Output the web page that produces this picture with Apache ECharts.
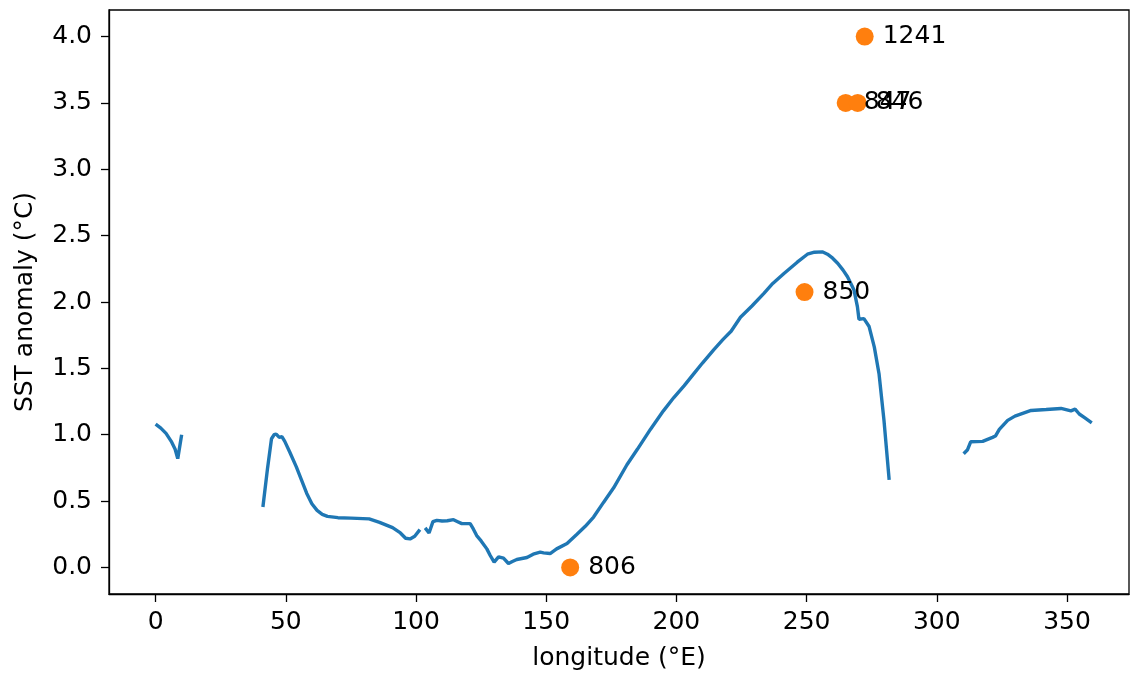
<!DOCTYPE html>
<html>
<head>
<meta charset="utf-8">
<script src="https://cdn.jsdelivr.net/npm/echarts@6/dist/echarts.min.js"></script>
<style>
html,body{margin:0;padding:0;background:#fff;}
#chart{width:1130px;height:676px;}
</style>
</head>
<body>
<div id="chart"></div>
<script>
// SST anomaly line (null = gap)
const lonValues = [
  0, 2, 4, 6, 7.5, 8.5, 10, null,
  41.2, 43, 44.5, 45.5, 46.3, 47.5, 48.5, 49.6, 51.5, 54, 56, 58, 60, 62, 64, 66, 70, 75, 82, 86, 91, 94, 96, 97.7, 99.5, 101.5, null,
  103.5, 105, 106.5, 108, 110, 112, 114.4, 116, 117.6, 120.8, 122, 123.3, 125, 127.2, 128.5, 130, 131.7, 133.6, 135.5, 137, 138.7, 142.6, 145, 147.7, 149, 151.5, 154, 158, 161.8, 165, 168.2, 172, 175.9, 181, 185, 190, 195, 199, 203, 206.7, 210, 214.3, 218, 221, 224.6, 229, 233.6, 237, 241.3, 246.4, 250.3, 253, 256, 258, 260, 262, 264, 265.7, 268.2, 269.5, 270.1, 272, 274, 276, 277.8, 279.7, 281.7, null,
  310.3, 311.8, 313, 317.6, 321.4, 322.5, 324, 327.2, 330, 336.2, 342, 347.7, 351.5, 353.1, 354.7, 357, 359.5
];
const sstValues = [
  1.08, 1.05, 1.01, 0.95, 0.89, 0.82, 1.0, null,
  0.456, 0.75, 0.97, 1.0, 1.005, 0.98, 0.985, 0.95, 0.87, 0.76, 0.66, 0.56, 0.48, 0.43, 0.40, 0.385, 0.375, 0.372, 0.366, 0.34, 0.30, 0.26, 0.22, 0.215, 0.235, 0.285, null,
  0.298, 0.26, 0.345, 0.355, 0.35, 0.352, 0.36, 0.345, 0.33, 0.33, 0.29, 0.24, 0.20, 0.14, 0.09, 0.04, 0.08, 0.07, 0.03, 0.045, 0.06, 0.075, 0.10, 0.115, 0.11, 0.105, 0.14, 0.18, 0.25, 0.31, 0.38, 0.49, 0.60, 0.774, 0.89, 1.04, 1.18, 1.28, 1.37, 1.46, 1.54, 1.64, 1.72, 1.78, 1.885, 1.97, 2.065, 2.14, 2.215, 2.30, 2.36, 2.375, 2.378, 2.36, 2.33, 2.29, 2.24, 2.19, 2.09, 1.965, 1.87, 1.875, 1.815, 1.66, 1.46, 1.11, 0.66, null,
  0.857, 0.887, 0.947, 0.95, 0.98, 0.99, 1.04, 1.108, 1.14, 1.183, 1.19, 1.198, 1.18, 1.193, 1.156, 1.125, 1.09
];

// Site points
const siteLon = [159.2, 249.2, 265, 269.6, 272.3];
const siteSst = [0.0, 2.075, 3.5, 3.5, 4.0];
const siteLabels = ['806', '850', '847', '846', '1241'];

// Tick labels
const xTicks = [0, 50, 100, 150, 200, 250, 300, 350];
const yTicks = [0, 0.5, 1, 1.5, 2, 2.5, 3, 3.5, 4];

const lineData = lonValues.map((x, i) => (x === null ? [null, null] : [x, sstValues[i]]));
const siteData = siteLon.map((x, i) => ({ value: [x, siteSst[i]], label: { formatter: siteLabels[i] } }));

const FONT = 'DejaVu Sans';
const chart = echarts.init(document.getElementById('chart'), null, { renderer: 'canvas' });
chart.setOption({
  animation: false,
  backgroundColor: '#fff',
  textStyle: { fontFamily: FONT },
  grid: { left: 109, right: 1, top: 10, bottom: 82, show: true, borderColor: '#000', borderWidth: 1.3, containLabel: false },
  xAxis: {
    type: 'value', min: -17.9, max: 373.8,
    name: 'longitude (°E)', nameLocation: 'middle', nameGap: 52,
    nameTextStyle: { fontFamily: FONT, fontSize: 25, color: '#000' },
    axisLine: { show: true, onZero: false, lineStyle: { color: '#000', width: 1.3 } },
    axisTick: { show: true, length: 8, lineStyle: { color: '#000', width: 1.3 }, customValues: xTicks },
    axisLabel: { fontFamily: FONT, fontSize: 25, color: '#000', margin: 16, customValues: xTicks, formatter: v => String(v) },
    splitLine: { show: false }
  },
  yAxis: {
    type: 'value', min: -0.2, max: 4.2,
    name: 'SST anomaly (°C)', nameLocation: 'middle', nameGap: 71, nameRotate: 90,
    nameTextStyle: { fontFamily: FONT, fontSize: 25, color: '#000' },
    axisLine: { show: true, onZero: false, lineStyle: { color: '#000', width: 1.3 } },
    axisTick: { show: true, length: 8, lineStyle: { color: '#000', width: 1.3 }, customValues: yTicks },
    axisLabel: { fontFamily: FONT, fontSize: 25, color: '#000', margin: 17, customValues: yTicks, formatter: v => v.toFixed(1) },
    splitLine: { show: false }
  },
  series: [
    {
      type: 'line', data: lineData, showSymbol: false, connectNulls: false,
      lineStyle: { color: '#1f77b4', width: 3.4 }, itemStyle: { color: '#1f77b4' }, z: 2
    },
    {
      type: 'scatter', data: siteData, symbol: 'circle', symbolSize: 18,
      itemStyle: { color: '#ff7f0e', opacity: 1 }, z: 3,
      label: { show: true, position: 'right', distance: 9, fontFamily: FONT, fontSize: 25, color: '#000' },
      labelLayout: { hideOverlap: false }
    }
  ]
});
</script>
</body>
</html>
